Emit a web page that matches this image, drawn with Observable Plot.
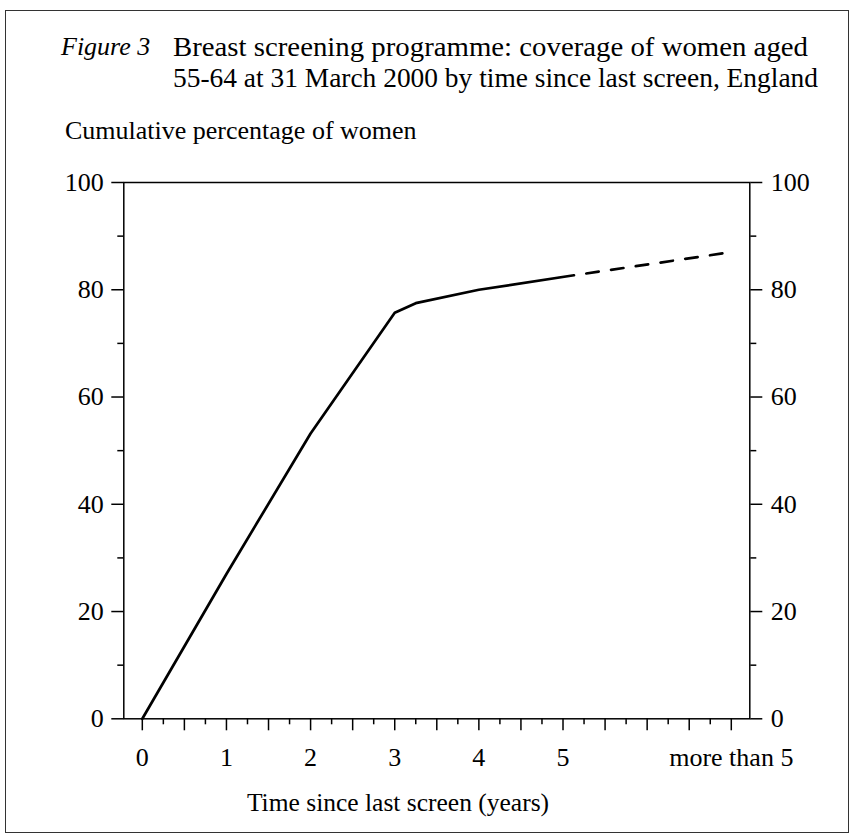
<!DOCTYPE html>
<html>
<head>
<meta charset="utf-8">
<script src="https://cdn.jsdelivr.net/npm/d3@7"></script>
<script src="https://cdn.jsdelivr.net/npm/@observablehq/plot@0.6"></script>
<style>
  html, body { margin: 0; padding: 0; background: #fff; }
  #wrap { position: relative; width: 863px; height: 839px; font-family: "Liberation Serif", "Times New Roman", serif; color: #000; }
  #border { position: absolute; left: 5px; top: 10px; width: 842px; height: 821px; border: 1.5px solid #333; }
  .t { position: absolute; white-space: nowrap; line-height: 1; transform-origin: 0 50%; }
  #chart { position: absolute; left: 0; top: 160px; }
</style>
</head>
<body>
<div id="wrap">
  <div id="border"></div>
  <div class="t" id="fig" style="left:61px; top:34px; font-size:26px; font-style:italic;">Figure 3</div>
  <div class="t fit" data-w="635" style="left:173px; top:34px; font-size:27px;">Breast screening programme: coverage of women aged</div>
  <div class="t fit" data-w="645" style="left:173px; top:65px; font-size:27px;">55-64 at 31 March 2000 by time since last screen, England</div>
  <div class="t" id="ylab" style="left:65px; top:118px; font-size:26px;">Cumulative percentage of women</div>
  <div class="t" id="xlab" style="left:398px; top:790px; font-size:25.5px; transform:translateX(-50%);">Time since last screen (years)</div>
  <div id="chart"></div>
</div>
<script>
// Data
const years = [0, 1, 2, 3, 3.25, 4, 5.13];
const pct = [0, 27, 53.2, 75.7, 77.5, 80, 82.7];
const estYears = [5.13, 6.95];
const estPct = [82.7, 86.9];

const xTickValues = [0, 1, 2, 3, 4, 5, 7];
const xTickLabels = ["0", "1", "2", "3", "4", "5", "more than 5"];
const yMajor = [0, 20, 40, 60, 80, 100];
const yMinor = [10, 30, 50, 70, 90];
const xMajor = d3.range(0, 7.01, 0.5);
const xMinor = d3.range(0.25, 7, 0.5);

const solid = years.map((x, i) => ({x, y: pct[i]}));
const dashed = estYears.map((x, i) => ({x, y: estPct[i]}));

const chart = Plot.plot({
  width: 863,
  height: 640,
  marginLeft: 123.3,
  marginRight: 113.7,
  marginTop: 22,
  marginBottom: 81.7,
  style: { fontFamily: '"Liberation Serif", "Times New Roman", serif', fontSize: "26px", color: "#000", background: "transparent", overflow: "visible" },
  x: { domain: [-0.22, 7.22] },
  y: { domain: [0, 100] },
  marks: [
    Plot.frame({ stroke: "#000", strokeWidth: 1.5 }),
    Plot.axisY(yMajor, { anchor: "left", tickSize: 12, tickPadding: 8, strokeWidth: 1.5, label: null, fontSize: 26 }),
    Plot.axisY(yMinor, { anchor: "left", tickSize: 6, text: null, strokeWidth: 1.5, label: null }),
    Plot.axisY(yMajor, { anchor: "right", tickSize: 12, tickPadding: 9, strokeWidth: 1.5, label: null, fontSize: 26 }),
    Plot.axisY(yMinor, { anchor: "right", tickSize: 6, text: null, strokeWidth: 1.5, label: null }),
    Plot.axisX(xMajor, { anchor: "bottom", tickSize: 12, text: null, strokeWidth: 1.5, label: null }),
    Plot.axisX(xMinor, { anchor: "bottom", tickSize: 6, text: null, strokeWidth: 1.5, label: null }),
    Plot.axisX(xTickValues, { anchor: "bottom", tickSize: 0, tickPadding: 29, label: null, fontSize: 26,
      tickFormat: (d) => xTickLabels[xTickValues.indexOf(d)] }),
    Plot.line(solid, { x: "x", y: "y", stroke: "#000", strokeWidth: 2.7, strokeLinejoin: "miter" }),
    Plot.line(dashed, { x: "x", y: "y", stroke: "#000", strokeWidth: 2.7, strokeDasharray: "12.5,12.5", strokeDashoffset: 12.5 })
  ]
});
document.getElementById("chart").appendChild(chart);

// fit the title lines to the reference widths
document.querySelectorAll(".fit").forEach((el) => {
  const w = el.getBoundingClientRect().width;
  const target = +el.dataset.w;
  el.style.transform = `scaleX(${target / w})`;
});
</script>
</body>
</html>
